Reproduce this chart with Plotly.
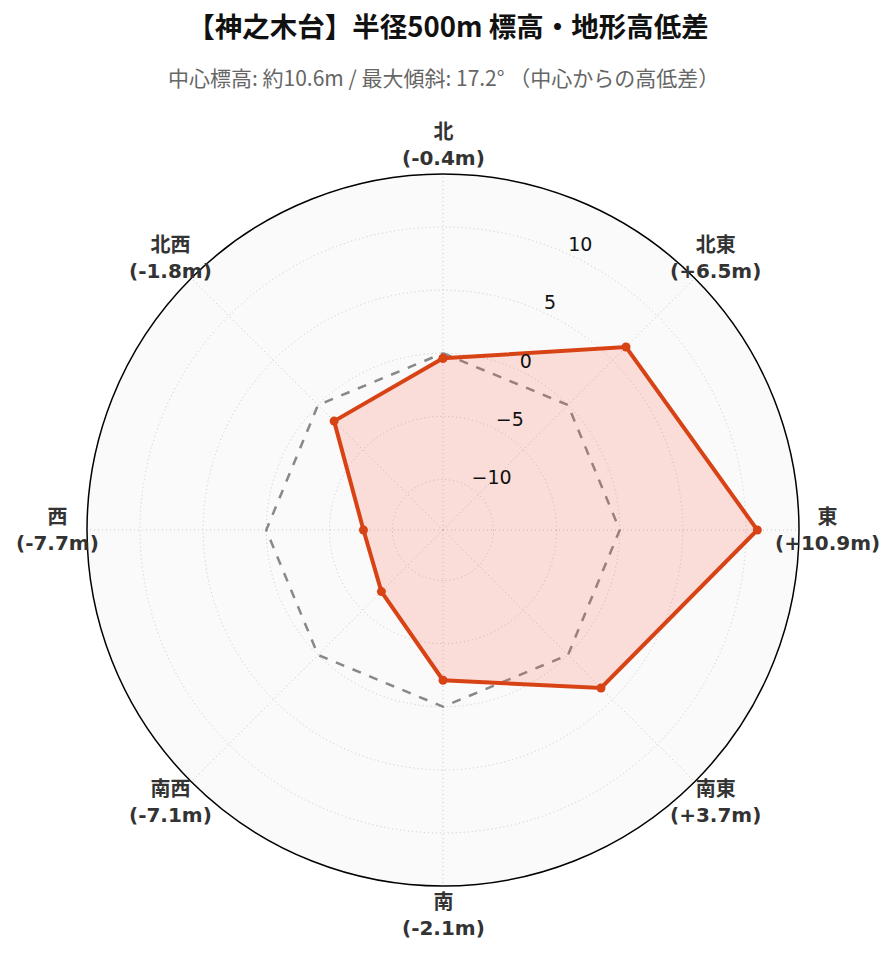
import math
import plotly.graph_objects as go

directions = ["北", "北東", "東", "南東", "南", "南西", "西", "北西"]
angles = [0, 45, 90, 135, 180, 225, 270, 315]
diffs = [-0.4, 6.5, 10.9, 3.7, -2.1, -7.1, -7.7, -1.8]
zero_ref = [0, 0, 0, 0, 0, 0, 0, 0]
radial_ticks = [-10, -5, 0, 5, 10]

title_text = "【神之木台】半径500m 標高・地形高低差"
subtitle_text = "中心標高: 約10.6m / 最大傾斜: 17.2° （中心からの高低差）"

label_text = [f"{d}<br>({v:+.1f}m)" if v > 0 else f"{d}<br>({v:.1f}m)" for d, v in zip(directions, diffs)]

theta_closed = angles + [angles[0]]
r_closed = diffs + [diffs[0]]
zero_closed = zero_ref + [zero_ref[0]]

fig = go.Figure()
fig.add_trace(go.Scatterpolar(
    r=zero_closed, theta=theta_closed, mode="lines",
    line=dict(color="#888888", width=2.5, dash="dash"),
    hoverinfo="skip", showlegend=False,
))
fig.add_trace(go.Scatterpolar(
    r=r_closed, theta=theta_closed, mode="lines+markers",
    fill="toself", fillcolor="rgba(250,90,60,0.18)",
    line=dict(color="#D84315", width=4),
    marker=dict(size=9, color="#D84315"),
    showlegend=False,
))

# direction labels placed just outside the polar circle (layout positions)
label_radius = 385 / 712
annotations = [dict(
    text=subtitle_text, xref="paper", yref="paper",
    x=0.5, y=(886 - 77) / 712, xanchor="center", yanchor="middle",
    showarrow=False,
    font=dict(family="Noto Sans CJK JP", size=21, color="#666"),
)]
for a, t in zip(angles, label_text):
    annotations.append(dict(
        text=t, xref="paper", yref="paper",
        x=0.5 + label_radius * math.sin(math.radians(a)),
        y=0.5 + label_radius * math.cos(math.radians(a)),
        xanchor="center", yanchor="middle", showarrow=False,
        font=dict(family="DejaVu Sans, Noto Sans CJK JP", size=20, color="#333", weight="bold"),
    ))

fig.update_layout(
    width=896, height=962,
    paper_bgcolor="white",
    margin=dict(l=87, r=97, t=174, b=76, autoexpand=False),
    font=dict(family="DejaVu Sans, Noto Sans CJK JP", color="#333"),
    title=dict(
        text=title_text, x=0.5, xanchor="center",
        y=1 - 27 / 962, yanchor="middle",
        font=dict(family="Noto Sans CJK JP", size=27.5, color="#111", weight="bold"),
    ),
    annotations=annotations,
    polar=dict(
        bgcolor="#fafafa",
        domain=dict(x=[0, 1], y=[0, 1]),
        angularaxis=dict(
            direction="clockwise", rotation=90,
            tickmode="array", tickvals=angles, showticklabels=False,
            showline=True, linecolor="black", linewidth=1.5,
            gridcolor="#c8c8c8", griddash="1px,3px", ticks="",
        ),
        radialaxis=dict(
            range=[-14, 14.2], angle=67.5, tickangle=67.5,
            side="clockwise",
            tickmode="array", tickvals=radial_ticks,
            ticktext=[str(t).replace("-", "\u2212") + "<br>\u00a0" for t in radial_ticks],
            tickfont=dict(size=19, color="#111"),
            showline=False, ticks="",
            gridcolor="#c8c8c8", griddash="1px,3px",
        ),
    ),
)

fig.write_html("out.html", config={"displayModeBar": False},
               post_script="document.body.style.margin='0';")
